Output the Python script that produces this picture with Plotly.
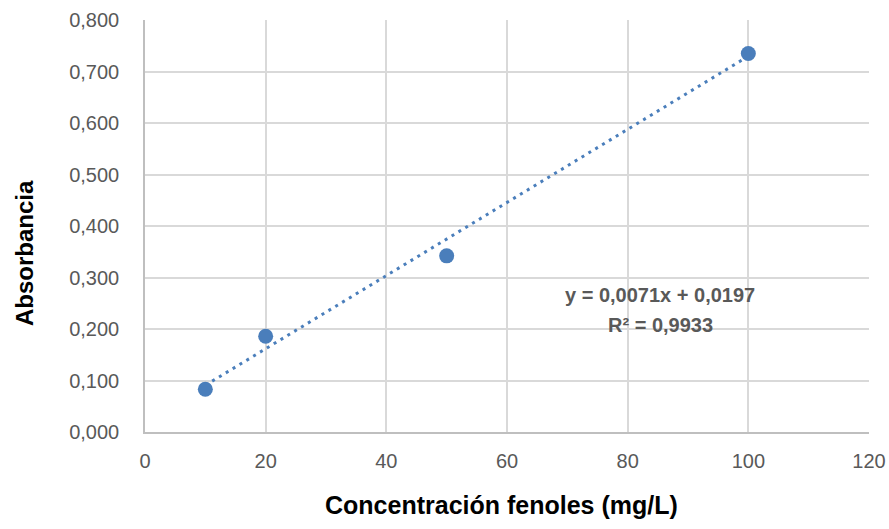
import plotly.graph_objects as go

conc = [10, 20, 50, 100]
absorb = [0.083, 0.186, 0.342, 0.735]
slope = 0.0071
intercept = 0.0197
trend_x = [10, 100]
trend_y = [slope * x + intercept for x in trend_x]
x_ticks = [0, 20, 40, 60, 80, 100, 120]
y_ticks = [0, 0.1, 0.2, 0.3, 0.4, 0.5, 0.6, 0.7, 0.8]
y_tick_text = ["0,000", "0,100", "0,200", "0,300", "0,400", "0,500", "0,600", "0,700", "0,800"]

BLUE = "#4A7EBB"
FONT = "Liberation Sans"
W, H = 889, 529
ML, MR, MT, MB = 145, 20, 20, 97
PW, PH = W - ML - MR, H - MT - MB

def px_x(px):
    return (px - ML) / PW

def px_y(py):
    return (H - MB - py) / PH

fig = go.Figure()
fig.add_trace(go.Scatter(x=trend_x, y=trend_y, mode="lines",
                         line=dict(color=BLUE, width=3, dash="3px,5px"),
                         showlegend=False, hoverinfo="skip"))
fig.add_trace(go.Scatter(x=conc, y=absorb, mode="markers",
                         marker=dict(color=BLUE, size=15, line=dict(width=0)),
                         showlegend=False))

fig.add_annotation(x=85.4, y=0.266, xref="x", yref="y",
                   text="<b>y = 0,0071x + 0,0197</b>",
                   showarrow=False, font=dict(family=FONT, size=20, color="#595959"))
fig.add_annotation(x=85.4, y=0.208, xref="x", yref="y",
                   text="<b>R² = 0,9933</b>",
                   showarrow=False, font=dict(family=FONT, size=20, color="#595959"))

# axis titles
fig.add_annotation(x=px_x(501), y=px_y(505), xref="paper", yref="paper",
                   xanchor="center", yanchor="middle",
                   text="<b>Concentración fenoles (mg/L)</b>", showarrow=False,
                   font=dict(family=FONT, size=25, color="black"))
fig.add_annotation(x=px_x(24), y=px_y(253), xref="paper", yref="paper",
                   xanchor="center", yanchor="middle",
                   text="<b>Absorbancia</b>", showarrow=False, textangle=-90,
                   font=dict(family=FONT, size=24, color="black"))

fig.update_layout(
    width=W, height=H,
    margin=dict(l=ML, r=MR, t=MT, b=MB),
    plot_bgcolor="white", paper_bgcolor="white",
    font=dict(family=FONT, size=20, color="#595959"),
    xaxis=dict(range=[0, 120], tickvals=x_ticks, showgrid=True,
               gridcolor="#D9D9D9", gridwidth=1.5, zeroline=False,
               showline=True, linecolor="#BFBFBF", linewidth=1.5,
               ticks="", automargin=False, ticklabelstandoff=10,
               tickfont=dict(family=FONT, size=20, color="#595959")),
    yaxis=dict(range=[0, 0.8], tickvals=y_ticks, ticktext=y_tick_text,
               showgrid=True, gridcolor="#D9D9D9", gridwidth=1.5, zeroline=False,
               showline=True, linecolor="#BFBFBF", linewidth=1.5,
               ticks="", automargin=False, ticklabelstandoff=20,
               tickfont=dict(family=FONT, size=20, color="#595959")),
)

fig.write_html("out.html", config={"displayModeBar": False},
               post_script="document.body.style.margin='0';document.body.style.overflow='hidden';")
